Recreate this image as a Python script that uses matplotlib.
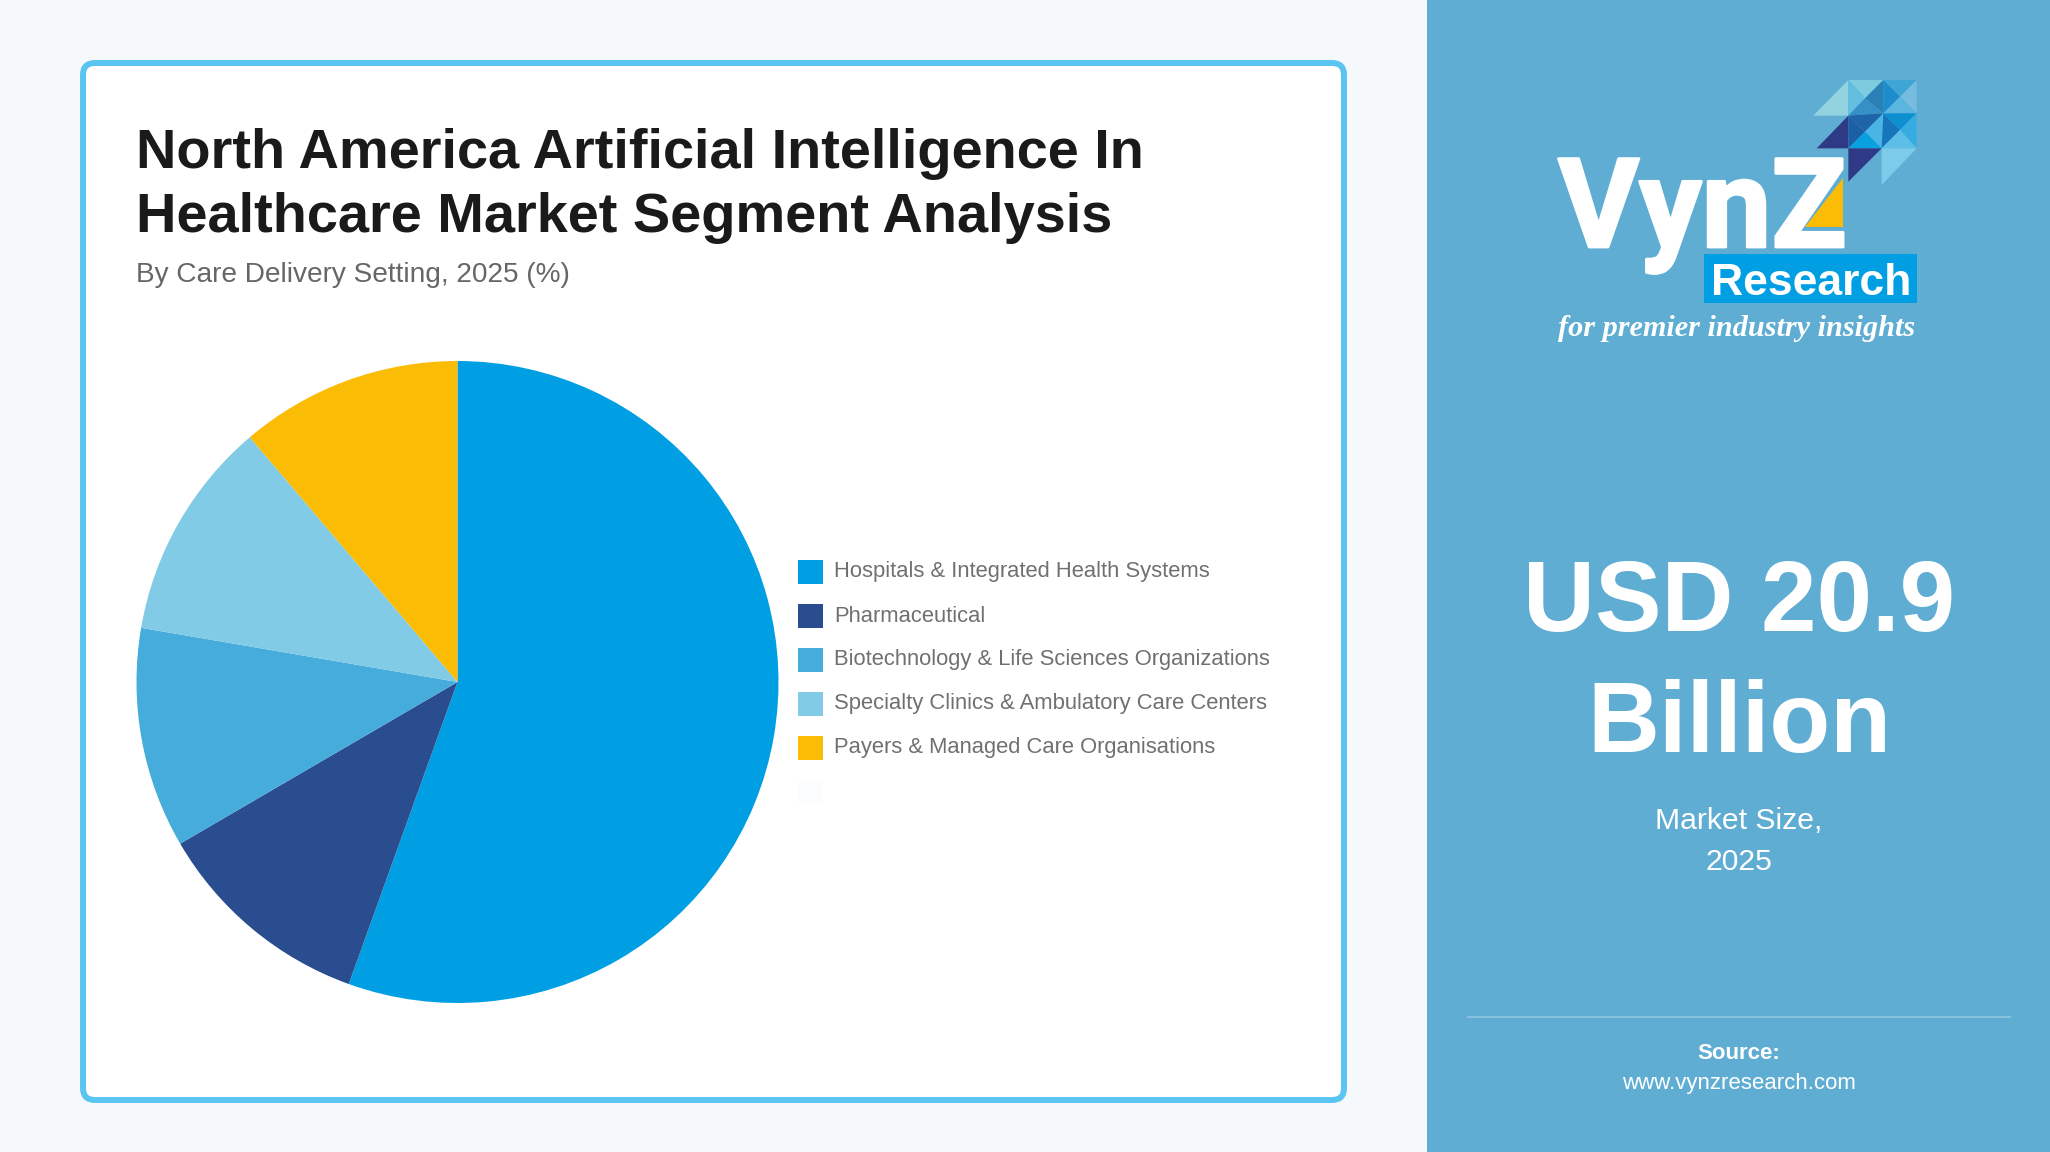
"""North America AI in healthcare infographic: pie card on the left, market size panel on the right."""
import matplotlib
matplotlib.use('Agg')
import matplotlib.pyplot as plt
import matplotlib.patheffects as pe
from matplotlib.patches import FancyBboxPatch, Polygon, Rectangle

W, H = 2050, 1152
plt.rcParams['font.family'] = ['Liberation Sans', 'DejaVu Sans']

SEGMENTS = ['Hospitals & Integrated Health Systems', 'Pharmaceutical',
            'Biotechnology & Life Sciences Organizations',
            'Specialty Clinics & Ambulatory Care Centers',
            'Payers & Managed Care Organisations']
SHARES = [55.5, 11.1, 11.1, 11.1, 11.2]
COLORS = ['#009FE3', '#2A4D90', '#45ACDC', '#81CBE6', '#FBBC05']

TITLE_LINES = ['North America Artificial Intelligence In', 'Healthcare Market Segment Analysis']
SUBTITLE = 'By Care Delivery Setting, 2025 (%)'
SIZE_LINES = ['USD 20.9', 'Billion']
SIZE_CAPTION = ['Market Size,', '2025']
SOURCE = ['Source:', 'www.vynzresearch.com']

# logo triangles, in zoomed-crop coordinates (x = 1500 + zx/3, y = 50 + zy/3)
LOGO_TRIS = [
    ([(940, 197), (1045, 90), (1045, 197)], '#93D3DF'),
    ([(1045, 90), (1150, 90), (1095, 145)], '#7CCBDF'),
    ([(1045, 90), (1095, 145), (1045, 197)], '#62BFE0'),
    ([(1150, 90), (1095, 145), (1150, 190)], '#2980B5'),
    ([(1095, 145), (1045, 197), (1150, 190)], '#3590C5'),
    ([(1150, 90), (1250, 90), (1200, 140)], '#3FA5D5'),
    ([(1150, 90), (1200, 140), (1150, 190)], '#1E8CCB'),
    ([(1250, 90), (1200, 140), (1250, 190)], '#75BCE0'),
    ([(1200, 140), (1150, 190), (1250, 190)], '#5AB5DF'),
    ([(950, 295), (1045, 197), (1045, 295)], '#2F3A87'),
    ([(1045, 197), (1150, 190), (1095, 245)], '#1F63A8'),
    ([(1045, 197), (1095, 245), (1045, 295)], '#1D5FA5'),
    ([(1150, 190), (1095, 245), (1145, 295)], '#4AB4E6'),
    ([(1095, 245), (1045, 295), (1145, 295)], '#0A9FDF'),
    ([(1150, 190), (1250, 190), (1200, 240)], '#0D8FD0'),
    ([(1150, 190), (1200, 240), (1145, 295)], '#1676BB'),
    ([(1250, 190), (1200, 240), (1250, 295)], '#37ACE3'),
    ([(1200, 240), (1145, 295), (1250, 295)], '#5DBEE8'),
    ([(1045, 295), (1145, 295), (1045, 395)], '#2F3A87'),
    ([(1145, 295), (1250, 295), (1145, 405)], '#7CCBEB'),
]


def zoomed(pts):
    return [(1500 + x / 3, 50 + y / 3) for x, y in pts]


def main():
    fig = plt.figure(figsize=(W / 100, H / 100), dpi=100, facecolor='#F5F9FC')

    # full-figure overlay in pixel coordinates
    bg = fig.add_axes([0, 0, 1, 1])
    bg.set_xlim(0, W)
    bg.set_ylim(H, 0)
    bg.axis('off')

    bg.add_patch(FancyBboxPatch((83, 63), 1261, 1037, boxstyle='round,pad=0,rounding_size=12',
                                facecolor='white', edgecolor='#5BC5F2', lw=4.3))
    bg.add_patch(Rectangle((1427, 0), W - 1427, H, facecolor='#60ADD4', edgecolor='none'))

    # card text
    for txt, y in zip(TITLE_LINES, [168, 232]):
        bg.text(136, y, txt, fontsize=40.35, fontweight='bold', color='#1A1A1A', va='baseline')
    bg.text(136, 282, SUBTITLE, fontsize=20.15, color='#666666', va='baseline')

    # pie
    cx, cy, r = 457.5, 682, 321
    pie_ax = fig.add_axes([(cx - r) / W, 1 - (cy + r) / H, 2 * r / W, 2 * r / H])
    pie_ax.pie(SHARES, colors=COLORS, startangle=90, counterclock=False, radius=1)
    pie_ax.set_xlim(-1, 1)
    pie_ax.set_ylim(-1, 1)

    # legend
    for i, (name, col) in enumerate(zip(SEGMENTS, COLORS)):
        y = 559.5 + 44 * i
        bg.add_patch(Rectangle((798, y), 25, 24, facecolor=col, edgecolor='none'))
        bg.text(834, y + 12.5, name, fontsize=15.85, color='#707070', va='center')
    bg.add_patch(Rectangle((798, 780), 25, 24, facecolor='#FBFCFD', edgecolor='none'))

    # market size panel
    for txt, y in zip(SIZE_LINES, [631, 752]):
        bg.text(1739, y, txt, fontsize=71.7, fontweight='bold', color='white', ha='center', va='baseline')
    for txt, y in zip(SIZE_CAPTION, [829, 870]):
        bg.text(1739, y, txt, fontsize=21.7, color='white', ha='center', va='baseline')
    bg.plot([1468, 2010], [1017, 1017], color='white', alpha=0.3, lw=1.2)
    bg.text(1739, 1059, SOURCE[0], fontsize=16, fontweight='bold', color='white', ha='center', va='baseline')
    bg.text(1739, 1089, SOURCE[1], fontsize=16, color='white', ha='center', va='baseline')

    # logo
    for pts, col in LOGO_TRIS:
        bg.add_patch(Polygon(zoomed(pts), closed=True, facecolor=col, edgecolor='none'))
    logo = bg.text(1558, 247, 'VynZ', fontsize=89.5, fontweight='bold', color='white', va='baseline',
                   family=['Roboto', 'Liberation Sans'])
    logo.set_path_effects([pe.withStroke(linewidth=2, foreground='white')])
    bg.add_patch(Polygon(zoomed([(1030, 385), (1030, 530), (915, 530)]), closed=True,
                         facecolor='#FBBC05', edgecolor='none'))
    bg.add_patch(Rectangle((1704, 254), 213, 49, facecolor='#009FE3', edgecolor='none'))
    bg.text(1711, 295, 'Research', fontsize=32, fontweight='bold', color='white', va='baseline')
    bg.text(1558, 336, 'for premier industry insights', fontsize=21.8, style='italic', fontweight='bold',
            color='white', va='baseline', family=['Liberation Serif', 'DejaVu Serif'])

    fig.savefig('out.png', dpi=100, facecolor=fig.get_facecolor())


if __name__ == '__main__':
    main()
